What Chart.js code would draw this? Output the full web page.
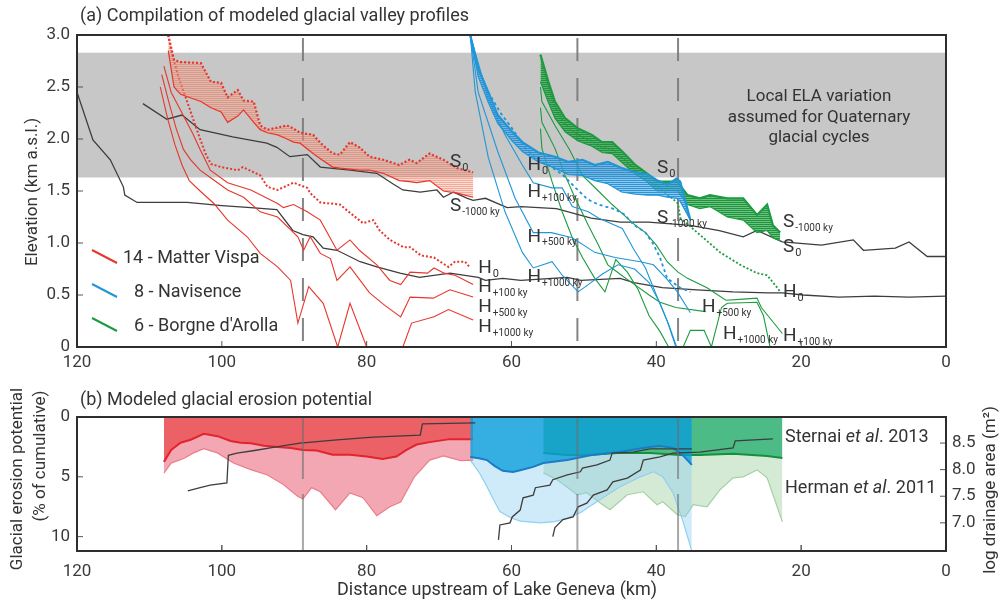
<!DOCTYPE html>
<html>
<head>
<meta charset="utf-8">
<script src="https://cdn.jsdelivr.net/npm/chart.js@4.4.1/dist/chart.umd.min.js"></script>
<style>
  body { margin: 0; background: #fff; }
  #wrap { position: relative; width: 1004px; height: 604px; }
  #profiles { position: absolute; left: 0; top: 0; }
  #erosion { position: absolute; left: 0; top: 380px; }
</style>
</head>
<body>
<div id="wrap">
  <canvas id="profiles" width="1004" height="380"></canvas>
  <canvas id="erosion" width="1004" height="224"></canvas>
</div>
<script>
const FONT = 'Roboto, "Liberation Sans", Arial, sans-serif';
const INK = '#3a3a3a';
const RED = '#e7362c', BLUE = '#2096d8', GREEN = '#1d9b40', BLACK = '#3d3d3d';

// axes
const distanceTicks = [120, 100, 80, 60, 40, 20, 0];
const elevationTicks = [0, 0.5, 1, 1.5, 2, 2.5, 3];
const erosionTicks = [0, 5, 10];
const drainageTicks = [7, 7.5, 8, 8.5];
const elaBand = [1.63, 2.83];
const sectionBreaks = [88.8, 50.9, 37.0];

// main valley profiles (black)
const valleyLow = [[120,2.45],[117.8,1.99],[115.4,1.8],[113.6,1.54],[113.4,1.46],[111.7,1.39],[104.8,1.39],[100,1.36],[96,1.34],[92.4,1.32],[90.2,1.12],[88.8,1.08],[87.4,1.06],[86,0.95],[84.1,0.93],[80.9,0.82],[78.6,0.77],[75.4,0.71],[72.7,0.67],[68.5,0.71],[64.6,0.67],[63.6,0.64],[61.2,0.66],[58.7,0.64],[52.3,0.67],[50.4,0.64],[45,0.66],[43.1,0.62],[39.2,0.57],[34.4,0.55],[29.4,0.53],[24.6,0.52],[22.6,0.52],[19.7,0.5],[14.8,0.48],[9.9,0.49],[5.1,0.48],[0,0.49]];
const valleyHigh = [[110.9,2.34],[107.6,2.19],[105.5,2.23],[103,2.09],[98.5,2.02],[93.8,1.96],[92.4,1.92],[90.6,1.83],[88.2,1.85],[86.4,1.73],[82.3,1.7],[78.6,1.67],[76.4,1.57],[75,1.51],[72.6,1.49],[70.3,1.51],[69.4,1.44],[68,1.49],[66.1,1.43],[65.3,1.41],[63.6,1.43],[60.6,1.34],[58.7,1.35],[53.8,1.33],[49,1.24],[45,1.2],[41.1,1.2],[35.3,1.17],[31.3,1.12],[28,1.06],[26.1,1.12],[22.6,1.01],[17.2,0.98],[12.8,1.03],[11.4,0.93],[7,0.95],[5.1,1.01],[2.6,0.87],[0,0.87]];

// 14 - Matter Vispa
const matterSx = [107.4,106.6,105.7,102.9,101.5,100.1,99.2,97.8,97,95.6,94.7,93.7,92.3,91,90.1,89.2,87.4,86.2,84.7,83.7,82.3,81,79.6,77.7,75.5,74.1,73.1,71.3,69.4,67.5,65.3];
const matterS0 = [3.0,2.76,2.74,2.73,2.55,2.54,2.4,2.47,2.37,2.36,2.13,2.09,2.11,2.13,2.1,2.06,2.04,1.95,1.86,1.85,1.97,1.92,1.83,1.8,1.75,1.8,1.77,1.86,1.8,1.72,1.68];
const matterS1000 = [2.85,2.5,2.43,2.36,2.3,2.26,2.16,2.22,2.28,2.16,2.09,2.06,2.04,2.0,1.97,1.96,1.86,1.8,1.73,1.72,1.71,1.7,1.7,1.67,1.6,1.59,1.58,1.6,1.5,1.48,1.44];
const matterH0 = [[107.4,3.0],[107,2.85],[106,2.6],[105,2.4],[104,2.2],[103,2.0],[102.2,1.85],[101.5,1.76],[100.1,1.73],[97.8,1.7],[97.1,1.73],[94.7,1.65],[93.7,1.54],[92.3,1.51],[90.1,1.58],[88.2,1.53],[87.8,1.48],[86.4,1.39],[83.7,1.37],[82.3,1.29],[80.5,1.19],[79.1,1.22],[78.2,1.12],[76.8,1.03],[74.9,0.96],[74,0.96],[72.5,0.88],[70.7,0.86],[69.6,0.81],[68.7,0.77],[67.8,0.82],[66.4,0.82],[65.7,0.76]];
const matterH100 = [[108,2.7],[107,2.45],[105.5,2.25],[104,2.05],[103,1.9],[102,1.76],[101.6,1.7],[99.2,1.58],[96,1.51],[92.3,1.38],[91.5,1.34],[90.1,1.37],[88.2,1.3],[86.4,1.22],[84.1,0.93],[82.3,1.03],[81,0.93],[78.6,0.79],[76.8,0.64],[75.3,0.6],[74,0.72],[71.6,0.71],[70.7,0.76],[69.3,0.71],[67.8,0.69],[65.3,0.6]];
const matterH500 = [[108.3,2.62],[107.3,2.35],[106.3,2.1],[105.3,1.9],[104.3,1.8],[103,1.7],[101.6,1.63],[99.2,1.51],[97,1.44],[94.7,1.3],[92.3,1.25],[89.5,1.06],[88.7,0.93],[87.8,1.06],[86.4,0.9],[85,0.85],[84.1,0.64],[82.3,0.77],[79.6,0.52],[77.5,0.4],[75.3,0.29],[74,0.48],[70.8,0.47],[68.5,0.55],[65.3,0.48]];
const matterH1000 = [[108.5,2.5],[107.5,2.2],[106.5,1.95],[105.5,1.75],[104.5,1.6],[103,1.5],[101.1,1.38],[99.2,1.22],[96.5,1.06],[94.7,0.9],[92.3,0.77],[90.5,0.64],[89.5,0.23],[88,0.58],[86,0.42],[84,0],[82.3,0.42],[80,0],[75,0],[73.8,0.23],[70.7,0.29],[68.7,0.36],[65.3,0.26]];

// 8 - Navisence
const navSx = [65.7,64.6,63.2,61.9,59.9,58.5,56.3,54,52.2,50.2,48.5,46.7,44.8,42.9,41.2,39.8,38.5,37.2,36.7,35.3];
const navS0 = [3.0,2.68,2.45,2.23,2.07,1.97,1.87,1.83,1.78,1.8,1.75,1.78,1.72,1.68,1.66,1.6,1.56,1.62,1.59,1.22];
const navS1000 = [3.0,2.6,2.35,2.15,1.98,1.88,1.78,1.72,1.66,1.65,1.6,1.57,1.49,1.47,1.46,1.46,1.44,1.43,1.4,1.22];
const navH0 = [[65.7,3.0],[64.6,2.68],[63.2,2.45],[61.5,2.25],[59.9,2.1],[58.1,1.91],[56.5,1.8],[54.9,1.75],[53,1.66],[51,1.52],[49.5,1.42],[48,1.37],[46,1.33],[44.5,1.28],[43.2,1.18],[41.5,1.1],[40.5,1.0],[39.5,0.86],[38.5,0.66],[36.7,0.57],[35.3,0.53]];
const navH100 = [[65.7,3.0],[63.2,2.39],[60.9,2.04],[58.5,1.75],[57,1.58],[54.4,1.53],[53,1.53],[51.6,1.35],[49.4,1.3],[48,1.24],[44.7,1.14],[43.2,0.95],[41.5,0.76],[40,0.5],[38.5,0.25],[37.3,0]];
const navH500 = [[65.7,3.0],[64.6,2.45],[61.9,1.88],[59.5,1.43],[57,1.1],[54.5,1.1],[51.6,1.05],[48.5,0.91],[45.7,0.86],[42.2,0.82],[40.4,0.79],[38.5,0.65],[37.1,0.53],[35.3,0.33]];
const navH1000 = [[65.7,3.0],[65,2.45],[63.2,1.82],[60.9,1.3],[58.5,0.91],[57,0.76],[54.4,0.82],[53,0.69],[50.8,0.53],[49.4,0.6],[47.5,0.7],[45.3,0.79],[43,0.75],[41,0.62],[39.5,0.42],[38.2,0.2],[37.2,0]];

// 6 - Borgne d'Arolla
const arollaSx = [56,54.9,54,52.6,50.8,48.9,47.5,46.1,44.7,42.9,41.5,39.9,37.1,35.7,34,32.6,30.2,28,26.1,24.7,23.9,22.9];
const arollaS0 = [2.81,2.55,2.36,2.2,2.1,2.04,1.97,1.97,1.88,1.75,1.68,1.59,1.59,1.46,1.43,1.46,1.43,1.43,1.27,1.37,1.17,1.1];
const arollaS1000 = [2.55,2.35,2.2,2.07,1.98,1.93,1.87,1.86,1.77,1.66,1.6,1.5,1.5,1.37,1.33,1.35,1.25,1.22,1.1,1.12,1.05,1.02];
const arollaH0 = [[56,2.81],[54.9,2.5],[54,2.3],[52.6,2.14],[50.8,2.04],[48.9,1.98],[47.5,1.92],[46.1,1.9],[44.7,1.82],[42.9,1.7],[41.5,1.63],[39.9,1.54],[38.5,1.47],[37,1.38],[36.7,1.24],[34,1.08],[31.2,0.91],[28.4,0.79],[26.1,0.71],[24.7,0.69],[23.3,0.57],[22.9,0.53]];
const arollaH100 = [[56,2.5],[55.8,2.36],[54,2.13],[52,1.9],[50.2,1.65],[48,1.5],[46.1,1.37],[44.5,1.27],[42.9,1.17],[41.5,1.1],[40,0.98],[38.5,0.82],[37,0.72],[35.7,0.66],[33,0.57],[30.4,0.45],[28,0.46],[26.1,0.47],[25.5,0.38],[22.6,0.13]];
const arollaH500 = [[56,2.3],[55.8,2.16],[54,1.91],[52.6,1.65],[51.2,1.43],[49.4,1.17],[48,0.98],[46.7,0.79],[45,0.7],[43,0.6],[41,0.5],[39.5,0.43],[37.3,0.38],[33.2,0.34]];
const arollaH1000 = [[56,2.1],[55.8,1.91],[54.4,1.59],[53,1.3],[51.6,1.05],[50.2,0.86],[48.5,0.66],[47.1,0.53],[45.6,0.84],[44,0.72],[42.5,0.55],[41,0.3],[39.5,0.15],[38.3,0],[36.3,0],[35.3,0.16],[33.4,0.16],[32.4,0],[31,0.38],[30.2,0.42],[26.1,0.43],[25.2,0.3],[24.3,0]];

// erosion potential (% of cumulative) and drainage area (log m2)
const vispaSternai = [[108,3.75],[107,2.75],[105.7,2.15],[104.3,1.9],[102.5,1.4],[100.6,1.6],[98.8,2.0],[97.4,2.15],[96,2.2],[94.2,2.4],[92.3,2.5],[90.5,2.6],[88.8,2.75],[86.9,2.8],[84.7,3.15],[82.3,3.15],[80,3.3],[77.8,3.5],[75.9,3.3],[74.5,2.75],[73.1,2.3],[71.3,2.1],[68.5,1.85],[65.3,1.85]];
const vispaHerman = [[108,4.7],[107,3.85],[105.2,3.45],[103.9,3.0],[102.5,2.65],[100.6,3.0],[98.4,3.85],[96,4.4],[93.7,4.85],[91.5,5.65],[89.5,6.65],[88.8,6.85],[87.6,5.9],[86.4,6.25],[84.3,7.75],[82.3,6.35],[80.5,6.75],[78.6,8.25],[76.8,7.5],[75.3,7.1],[73.4,5.0],[71.3,3.6],[69.4,3.25],[67,3.65],[65.3,3.6]];
const navSternai = [[65.7,3.35],[64.5,3.45],[63.4,3.6],[62.3,4.1],[61.2,4.5],[59.8,4.6],[58.8,4.45],[57,4.17],[55.6,3.85],[52.3,3.6],[49.1,3.2],[45.4,2.95],[40.9,2.5],[39.5,2.42],[37.7,2.58],[36.4,3.17],[35.1,4.0]];
const navHerman = [[65.7,3.6],[64.5,4.6],[63.4,5.8],[62.5,6.9],[61.6,7.9],[60.2,8.4],[58.8,8.7],[56,8.85],[54,8.75],[52.3,8.45],[50.5,8.0],[47.8,6.92],[45,5.83],[42.2,5.0],[40.4,4.58],[39.1,5.0],[37.7,6.33],[36.4,8.58],[35.1,11.2]];
const arollaSternai = [[55.6,3.0],[52.3,3.17],[49.6,3.17],[45.4,3.0],[40.9,3.0],[36.7,3.17],[34,3.17],[29.4,3.08],[24.7,3.25],[22.6,3.42]];
const arollaHerman = [[55.6,4.67],[53.7,5.25],[50.9,6.5],[49.6,6.33],[47.8,7.17],[46.4,7.75],[44,6.5],[41.8,6.25],[39.9,7.33],[39.1,7.08],[37.1,8.17],[36,8.33],[34.9,7.33],[33,7.5],[31.2,6.08],[29.4,5.08],[28,5.0],[26.1,4.42],[24.7,5.08],[22.6,8.75]];
const vispaDrainage = [[104.7,7.6],[103,7.66],[101.6,7.71],[99.3,7.75],[99.1,8.27],[97.9,8.31],[95.5,8.36],[92.9,8.42],[89.2,8.5],[84.1,8.56],[79.1,8.61],[72.6,8.65],[72.3,8.86],[65,8.88]];
const navDrainage = [[61.8,6.68],[61.6,6.96],[60.2,7.0],[59.9,7.11],[58.8,7.24],[58.4,7.47],[57,7.52],[56.7,7.66],[54.7,7.71],[54.3,7.81],[52.3,7.9],[50.5,7.96],[50.2,8.03],[48.2,8.09],[46.4,8.18],[46.1,8.31],[43.2,8.33],[40.9,8.39],[35.1,8.39]];
const arollaDrainage = [[54.3,6.74],[54,6.91],[52.9,7.06],[51.5,7.11],[50.8,7.3],[49.6,7.37],[48.7,7.52],[46.8,7.62],[46,7.77],[44,7.84],[42.2,7.99],[41.8,8.18],[39.5,8.24],[37.7,8.31],[34,8.33],[29.4,8.41],[29.1,8.54],[23.9,8.58]];

// text labels placed at (distance, elevation)
const profileLabels = [
  {x: 68.5, y: 1.78, t: 'S', s: '0'}, {x: 68.5, y: 1.35, t: 'S', s: '-1000 ky'},
  {x: 64.6, y: 0.76, t: 'H', s: '0'}, {x: 64.6, y: 0.57, t: 'H', s: '+100 ky'},
  {x: 64.6, y: 0.38, t: 'H', s: '+500 ky'}, {x: 64.6, y: 0.19, t: 'H', s: '+1000 ky'},
  {x: 57.8, y: 1.75, t: 'H', s: '0'}, {x: 57.8, y: 1.49, t: 'H', s: '+100 ky'},
  {x: 57.8, y: 1.06, t: 'H', s: '+500 ky'}, {x: 57.8, y: 0.67, t: 'H', s: '+1000 ky'},
  {x: 39.9, y: 1.72, t: 'S', s: '0'}, {x: 39.9, y: 1.24, t: 'S', s: '-1000 ky'},
  {x: 22.5, y: 1.2, t: 'S', s: '-1000 ky'}, {x: 22.5, y: 0.96, t: 'S', s: '0'},
  {x: 22.5, y: 0.53, t: 'H', s: '0'}, {x: 33.7, y: 0.38, t: 'H', s: '+500 ky'},
  {x: 30.8, y: 0.12, t: 'H', s: '+1000 ky'}, {x: 22.5, y: 0.1, t: 'H', s: '+100 ky'}
];
const catchments = [
  {label: '14 - Matter Vispa', color: RED},
  {label: '8 - Navisence', color: BLUE},
  {label: "6 - Borgne d'Arolla", color: GREEN}
];

const pts = arr => arr.map(([x, y]) => ({x, y}));
const zip = (xs, ys) => xs.map((x, i) => ({x, y: ys[i]}));

// thin stripes standing in for the bundle of intermediate profiles
function fanPattern(base, stripe, gap) {
  const c = document.createElement('canvas');
  c.width = 4; c.height = gap;
  const g = c.getContext('2d');
  g.fillStyle = base; g.fillRect(0, 0, 4, gap);
  g.fillStyle = stripe; g.fillRect(0, 0, 4, 1);
  return g.createPattern(c, 'repeat');
}

function line(data, color, width, dash, extra) {
  return Object.assign({data, borderColor: color, borderWidth: width, borderDash: dash || [],
    pointRadius: 0, fill: false, tension: 0}, extra || {});
}

function fixTicks(values) {
  return scale => { scale.ticks = values.map(v => ({value: v})); };
}

function frame(ctx, area) {
  ctx.save();
  ctx.strokeStyle = '#2e2e2e';
  ctx.lineWidth = 2;
  ctx.strokeRect(area.left, area.top, area.right - area.left, area.bottom - area.top);
  ctx.restore();
}

function innerTicks(chart, xKey, yKey, side) {
  const {ctx, chartArea: a} = chart;
  ctx.save();
  ctx.strokeStyle = '#555';
  ctx.lineWidth = 1;
  ctx.beginPath();
  chart.scales[xKey].ticks.forEach(t => {
    const px = chart.scales[xKey].getPixelForValue(t.value);
    ctx.moveTo(px, a.bottom); ctx.lineTo(px, a.bottom - 6);
  });
  chart.scales[yKey].ticks.forEach(t => {
    const py = chart.scales[yKey].getPixelForValue(t.value);
    if (side === 'right') { ctx.moveTo(a.right, py); ctx.lineTo(a.right - 6, py); }
    else { ctx.moveTo(a.left, py); ctx.lineTo(a.left + 6, py); }
  });
  ctx.stroke();
  ctx.restore();
}

function breaks(chart, dash, startGap, color) {
  const {ctx, chartArea: a} = chart;
  const x = chart.scales.x;
  ctx.save();
  ctx.strokeStyle = color;
  ctx.lineWidth = 2;
  ctx.setLineDash(dash);
  sectionBreaks.forEach(km => {
    const px = x.getPixelForValue(km);
    ctx.beginPath();
    ctx.moveTo(px, a.top + startGap);
    ctx.lineTo(px, a.bottom);
    ctx.stroke();
  });
  ctx.restore();
}

function subLabel(ctx, x, y, main, sub) {
  ctx.textAlign = 'left';
  ctx.textBaseline = 'middle';
  ctx.font = `19px ${FONT}`;
  ctx.fillText(main, x, y);
  const w = ctx.measureText(main).width;
  ctx.font = `${sub.length > 1 ? 10 : 11}px ${FONT}`;
  ctx.fillText(sub, x + w + 1, y + 6);
}

function rotated(ctx, text, x, y, size) {
  ctx.save();
  ctx.translate(x, y);
  ctx.rotate(-Math.PI / 2);
  ctx.textAlign = 'center';
  ctx.textBaseline = 'middle';
  ctx.font = `${size}px ${FONT}`;
  ctx.fillText(text, 0, 0);
  ctx.restore();
}

const tickFont = {family: FONT, size: 17};

// ---------- (a) valley profiles ----------
const redFan = fanPattern('rgba(246,165,145,0.40)', 'rgba(236,110,85,0.45)', 2);
const blueFan = fanPattern('rgba(70,165,228,0.60)', 'rgba(30,140,212,0.85)', 2);
const greenFan = fanPattern('rgba(45,165,75,0.70)', 'rgba(25,145,55,0.90)', 2);

const profileSets = [
  line(zip(matterSx, matterS0), RED, 2.2, [2, 2]),
  line(zip(matterSx, matterS1000), RED, 1.2, [], {fill: '-1', backgroundColor: redFan}),
  line(zip(navSx, navS0), BLUE, 2.2),
  line(zip(navSx, navS1000), BLUE, 1.2, [], {fill: '-1', backgroundColor: blueFan}),
  line(zip(arollaSx, arollaS0), GREEN, 2.2),
  line(zip(arollaSx, arollaS1000), GREEN, 1.2, [], {fill: '-1', backgroundColor: greenFan}),
  line(pts(matterH0), RED, 2, [2, 2]),
  line(pts(matterH100), RED, 1.1),
  line(pts(matterH500), RED, 1.1),
  line(pts(matterH1000), RED, 1.1),
  line(pts(navH0), BLUE, 1.8, [3, 3]),
  line(pts(navH100), BLUE, 1.1),
  line(pts(navH500), BLUE, 1.1),
  line(pts(navH1000), BLUE, 1.1),
  line(pts(arollaH0), GREEN, 1.8, [2, 2]),
  line(pts(arollaH100), GREEN, 1.1),
  line(pts(arollaH500), GREEN, 1.1),
  line(pts(arollaH1000), GREEN, 1.1),
  line(pts(valleyHigh), BLACK, 1.3),
  line(pts(valleyLow), BLACK, 1.3)
];

const profileDecor = {
  id: 'profileDecor',
  beforeDatasetsDraw(chart) {
    const {ctx, chartArea: a, scales: {y}} = chart;
    const top = y.getPixelForValue(elaBand[1]);
    const bottom = y.getPixelForValue(elaBand[0]);
    ctx.save();
    ctx.fillStyle = '#c6c7c6';
    ctx.fillRect(a.left, top, a.right - a.left, bottom - top);
    ctx.restore();
    breaks(chart, [23, 17], 3, 'rgba(120,120,120,0.9)');
  },
  afterDatasetsDraw(chart) {
    const {ctx, scales: {x, y}} = chart;
    ctx.save();
    ctx.fillStyle = '#333';
    profileLabels.forEach(l => subLabel(ctx, x.getPixelForValue(l.x), y.getPixelForValue(l.y), l.t, l.s));

    // ELA note
    ctx.font = `17px ${FONT}`;
    ctx.textAlign = 'center';
    ctx.textBaseline = 'middle';
    ['Local ELA variation', 'assumed for Quaternary', 'glacial cycles']
      .forEach((s, i) => ctx.fillText(s, 819, 97 + i * 20.5));

    // catchment legend
    catchments.forEach((c, i) => {
      const cy = 258 + i * 34;
      ctx.strokeStyle = c.color;
      ctx.lineWidth = 2;
      ctx.beginPath();
      ctx.moveTo(92, cy - 8); ctx.lineTo(117, cy + 5);
      ctx.stroke();
      ctx.fillStyle = '#333';
      ctx.font = `18px ${FONT}`;
      ctx.textAlign = 'left';
      ctx.fillText(c.label, i === 0 ? 123 : 134, cy);
    });
    ctx.restore();
  },
  afterDraw(chart) {
    const {ctx} = chart;
    innerTicks(chart, 'x', 'y', 'left');
    frame(ctx, chart.chartArea);
    ctx.save();
    ctx.fillStyle = '#333';
    ctx.font = `18px ${FONT}`;
    ctx.textAlign = 'left';
    ctx.textBaseline = 'middle';
    ctx.fillText('(a) Compilation of modeled glacial valley profiles', 80, 16);
    rotated(ctx, 'Elevation (km a.s.l.)', 33, 192, 17);
    ctx.restore();
  }
};

new Chart(document.getElementById('profiles'), {
  type: 'line',
  data: {datasets: profileSets},
  options: {
    responsive: false,
    animation: false,
    layout: {padding: {top: 35, right: 58, left: 0, bottom: 0}},
    plugins: {legend: {display: false}, tooltip: {enabled: false}},
    scales: {
      x: {
        type: 'linear', reverse: true, min: 0, max: 120,
        afterBuildTicks: fixTicks(distanceTicks),
        afterFit: s => { s.height = 33; },
        grid: {display: false, drawTicks: false}, border: {display: false},
        ticks: {font: tickFont, color: INK, padding: 6, maxRotation: 0, autoSkip: false, callback: v => String(v)}
      },
      y: {
        min: 0, max: 3,
        afterBuildTicks: fixTicks(elevationTicks),
        afterFit: s => { s.width = 77; },
        grid: {display: false, drawTicks: false}, border: {display: false},
        ticks: {font: tickFont, color: INK, padding: 7, callback: v => v === 0 ? '0' : v.toFixed(1)}
      }
    }
  },
  plugins: [profileDecor]
});

// ---------- (b) erosion potential ----------
const erosionSets = [
  line(pts(vispaDrainage), BLACK, 1.3, [], {yAxisID: 'y2', order: 1}),
  line(pts(navDrainage), BLACK, 1.3, [], {yAxisID: 'y2', order: 1}),
  line(pts(arollaDrainage), BLACK, 1.3, [], {yAxisID: 'y2', order: 1}),
  line(pts(navSternai), '#1a7cc8', 2, [], {fill: 'origin', backgroundColor: 'rgba(9,158,219,0.78)', order: 5}),
  line(pts(vispaSternai), '#e2242c', 2, [], {fill: 'origin', backgroundColor: '#ec6166', order: 6}),
  line(pts(arollaSternai), '#14913c', 2, [], {fill: 'origin', backgroundColor: '#4cbb85', order: 7}),
  line(pts(vispaHerman), '#ee7d8a', 1.2, [], {fill: 'origin', backgroundColor: '#f3a7b3', order: 8}),
  line(pts(navHerman), '#8fd0f2', 1.2, [], {fill: 'origin', backgroundColor: 'rgba(140,205,240,0.42)', order: 9}),
  line(pts(arollaHerman), '#a3d2a5', 1.2, [], {fill: 'origin', backgroundColor: 'rgba(100,180,100,0.28)', order: 10})
];

const erosionDecor = {
  id: 'erosionDecor',
  afterDatasetsDraw(chart) {
    breaks(chart, [62, 15], 0, 'rgba(110,110,110,0.6)');
    const {ctx} = chart;
    ctx.save();
    ctx.fillStyle = '#333';
    ctx.textBaseline = 'middle';
    ctx.textAlign = 'left';
    [['Sternai ', 'et al', '. 2013', 57], ['Herman ', 'et al', '. 2011', 108]].forEach(([a, b, c, y]) => {
      let x = 785;
      ctx.font = `18px ${FONT}`;
      ctx.fillText(a, x, y); x += ctx.measureText(a).width;
      ctx.font = `italic 18px ${FONT}`;
      ctx.fillText(b, x, y); x += ctx.measureText(b).width;
      ctx.font = `18px ${FONT}`;
      ctx.fillText(c, x, y);
    });
    ctx.restore();
  },
  afterDraw(chart) {
    const {ctx} = chart;
    innerTicks(chart, 'x', 'y', 'left');
    innerTicks(chart, 'x', 'y2', 'right');
    frame(ctx, chart.chartArea);
    ctx.save();
    ctx.fillStyle = '#333';
    ctx.font = `18px ${FONT}`;
    ctx.textAlign = 'left';
    ctx.textBaseline = 'middle';
    ctx.fillText('(b) Modeled glacial erosion potential', 80, 20);
    ctx.textAlign = 'center';
    ctx.fillText('Distance upstream of Lake Geneva (km)', 497, 210);
    rotated(ctx, 'Glacial erosion potential', 18, 99, 17);
    rotated(ctx, '(% of cumulative)', 41, 76, 17);
    rotated(ctx, 'log drainage area (m²)', 991, 110, 17);
    ctx.restore();
  }
};

new Chart(document.getElementById('erosion'), {
  type: 'line',
  data: {datasets: erosionSets},
  options: {
    responsive: false,
    animation: false,
    layout: {padding: {top: 37, right: 0, left: 0, bottom: 0}},
    plugins: {legend: {display: false}, tooltip: {enabled: false}},
    scales: {
      x: {
        type: 'linear', reverse: true, min: 0, max: 120,
        afterBuildTicks: fixTicks(distanceTicks),
        afterFit: s => { s.height = 53; },
        grid: {display: false, drawTicks: false}, border: {display: false},
        ticks: {font: tickFont, color: INK, padding: 11, maxRotation: 0, autoSkip: false, callback: v => String(v)}
      },
      y: {
        position: 'left', reverse: true, min: 0, max: 11.2,
        afterBuildTicks: fixTicks(erosionTicks),
        afterFit: s => { s.width = 77; },
        grid: {display: false, drawTicks: false}, border: {display: false},
        ticks: {font: tickFont, color: INK, padding: 7, callback: v => String(v)}
      },
      y2: {
        position: 'right', min: 6.47, max: 8.99,
        afterBuildTicks: fixTicks(drainageTicks),
        afterFit: s => { s.width = 58; },
        grid: {display: false, drawTicks: false}, border: {display: false},
        ticks: {font: tickFont, color: INK, padding: 6, callback: v => v.toFixed(1)}
      }
    }
  },
  plugins: [erosionDecor]
});
</script>
</body>
</html>
